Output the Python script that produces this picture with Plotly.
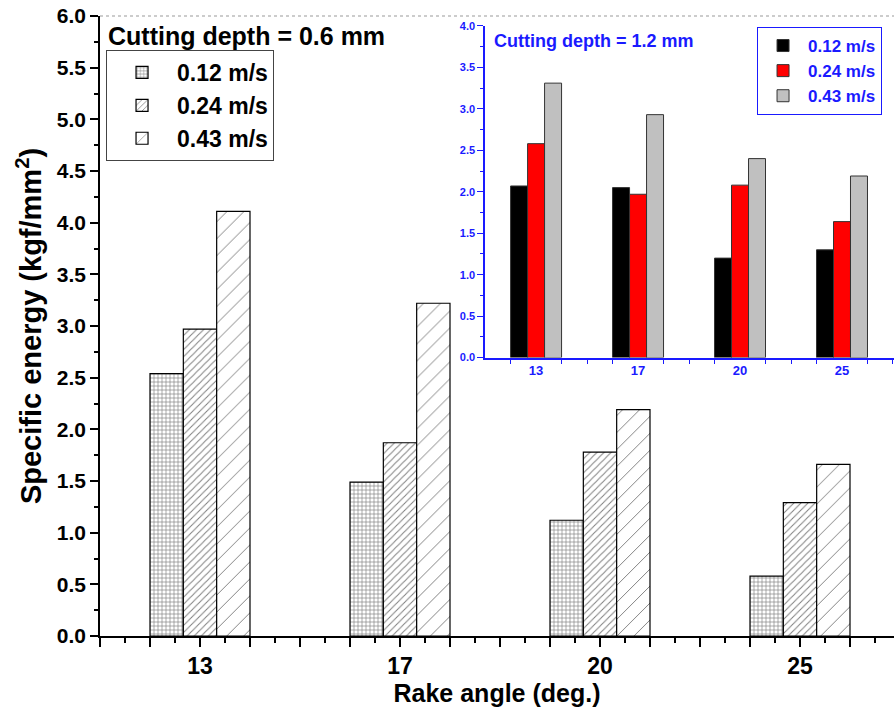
import numpy as np
import plotly.graph_objects as go

# Rake angles (deg.) and cutting speeds
angles = ["13", "17", "20", "25"]
speeds = ["0.12 m/s", "0.24 m/s", "0.43 m/s"]

# Specific energy (kgf/mm^2), cutting depth = 0.6 mm
depth06_v012 = [2.54, 1.49, 1.12, 0.58]
depth06_v024 = [2.97, 1.87, 1.78, 1.29]
depth06_v043 = [4.11, 3.22, 2.19, 1.66]

# Specific energy (kgf/mm^2), cutting depth = 1.2 mm
depth12_v012 = [2.07, 2.05, 1.20, 1.30]
depth12_v024 = [2.58, 1.97, 2.08, 1.64]
depth12_v043 = [3.31, 2.93, 2.40, 2.19]

FONT = "Arial, Liberation Sans, sans-serif"
BLUE = "#1a1aff"

pos = list(range(1, len(angles) + 1))

main_series = [depth06_v012, depth06_v024, depth06_v043]
inset_series = [depth12_v012, depth12_v024, depth12_v043]

main_patterns = [
    dict(shape="+", size=4, solidity=0.3, fgcolor="black", bgcolor="white"),
    dict(shape="/", size=5, solidity=0.2, fgcolor="black", bgcolor="white"),
    dict(shape="/", size=12, solidity=0.08, fgcolor="black", bgcolor="white"),
]
inset_colors = ["#000000", "#ff0000", "#c0c0c0"]

fig = go.Figure()

for name, vals, pat in zip(speeds, main_series, main_patterns):
    fig.add_trace(go.Bar(
        x=pos, y=vals, name=name,
        marker=dict(color="white", pattern=pat,
                    line=dict(color="black", width=1.2)),
        xaxis="x", yaxis="y", legend="legend",
    ))

for name, vals, col in zip(speeds, inset_series, inset_colors):
    fig.add_trace(go.Bar(
        x=pos, y=vals, name=name,
        marker=dict(color=col, line=dict(color="#333333", width=1)),
        xaxis="x2", yaxis="y2", legend="legend2",
    ))

# main x-axis: major ticks every 0.25, labels only at the rake angles
major_x = list(np.arange(0.5, 4.5, 0.25))
major_txt = [angles[int(v) - 1] if float(v).is_integer() and 1 <= v <= len(angles) else ""
             for v in major_x]

# inset x-axis ticks between groups
inset_minor = []
for p in pos:
    inset_minor += [p - 0.25, p + 0.25, p + 0.5]

fig.update_layout(
    width=894, height=712,
    margin=dict(l=100, r=0, t=16, b=76),
    paper_bgcolor="white", plot_bgcolor="rgba(0,0,0,0)",
    barmode="group", bargap=0.5, bargroupgap=0,
    font=dict(family=FONT, color="black"),
    xaxis=dict(
        domain=[0, 1], range=[0.5, 4.47], automargin=False,
        showline=True, linecolor="black", linewidth=1.5,
        showgrid=False, zeroline=False,
        tickmode="array", tickvals=major_x, ticktext=major_txt,
        ticks="outside", ticklen=9, tickwidth=1.5, tickcolor="black",
        tickfont=dict(size=23, weight="bold"),
        minor=dict(ticks="outside", ticklen=5, tickwidth=1.5, tickcolor="black",
                   tick0=0.625, dtick=0.25),
        title=dict(text="Rake angle (deg.)", font=dict(size=25, weight="bold"), standoff=4),
    ),
    yaxis=dict(
        domain=[0, 1], range=[0, 6], automargin=False,
        showline=True, linecolor="black", linewidth=1.5,
        showgrid=False, zeroline=False,
        dtick=0.5, tickformat=".1f",
        ticks="outside", ticklen=8, tickwidth=1.5, tickcolor="black",
        tickfont=dict(size=21, weight="bold"),
        minor=dict(ticks="outside", ticklen=4, tickwidth=1.5, tickcolor="black", dtick=0.25),
        title=dict(text="Specific energy (kgf/mm<sup>2</sup>)",
                   font=dict(size=29, weight="bold"), standoff=7),
    ),
    xaxis2=dict(
        domain=[0.485, 1.0], range=[0.5, 4.51], anchor="y2", automargin=False,
        showline=True, linecolor=BLUE, linewidth=1.5,
        showgrid=False, zeroline=False,
        tickmode="array", tickvals=pos, ticktext=angles, ticks="",
        tickfont=dict(size=13, color=BLUE, weight="bold"),
        minor=dict(ticks="outside", ticklen=5, tickwidth=1.2, tickcolor=BLUE,
                   tickmode="array", tickvals=inset_minor),
    ),
    yaxis2=dict(
        domain=[0.449, 0.984], range=[0, 4], anchor="x2", automargin=False,
        showline=True, linecolor=BLUE, linewidth=1.5,
        showgrid=False, zeroline=False,
        dtick=0.5, tickformat=".1f",
        ticks="outside", ticklen=6, tickwidth=1.2, tickcolor=BLUE,
        tickfont=dict(size=11, color=BLUE, weight="bold"),
        minor=dict(ticks="outside", ticklen=3, tickwidth=1.2, tickcolor=BLUE, dtick=0.25),
    ),
    legend=dict(
        x=0.0076, y=0.9452, xanchor="left", yanchor="top",
        bgcolor="white", bordercolor="#444444", borderwidth=1,
        font=dict(size=23, weight="bold", color="black"),
        itemwidth=60,
    ),
    legend2=dict(
        x=0.8275, y=0.9823, xanchor="left", yanchor="top",
        bgcolor="white", bordercolor=BLUE, borderwidth=1,
        font=dict(size=17, weight="bold", color=BLUE),
        itemwidth=40,
    ),
    annotations=[
        dict(text="Cutting depth = 0.6 mm", x=0.0076, y=0.9677, xref="paper", yref="paper",
             xanchor="left", yanchor="middle", showarrow=False,
             font=dict(size=25, weight="bold", color="black")),
        dict(text="Cutting depth = 1.2 mm", x=0.4937, y=0.9597, xref="paper", yref="paper",
             xanchor="left", yanchor="middle", showarrow=False,
             font=dict(size=18, weight="bold", color=BLUE)),
    ],
    shapes=[
        dict(type="line", xref="paper", yref="paper", x0=0, x1=1, y0=1, y1=1,
             line=dict(color="#999999", width=1, dash="dot")),
    ],
)

fig.write_html("out.html")
